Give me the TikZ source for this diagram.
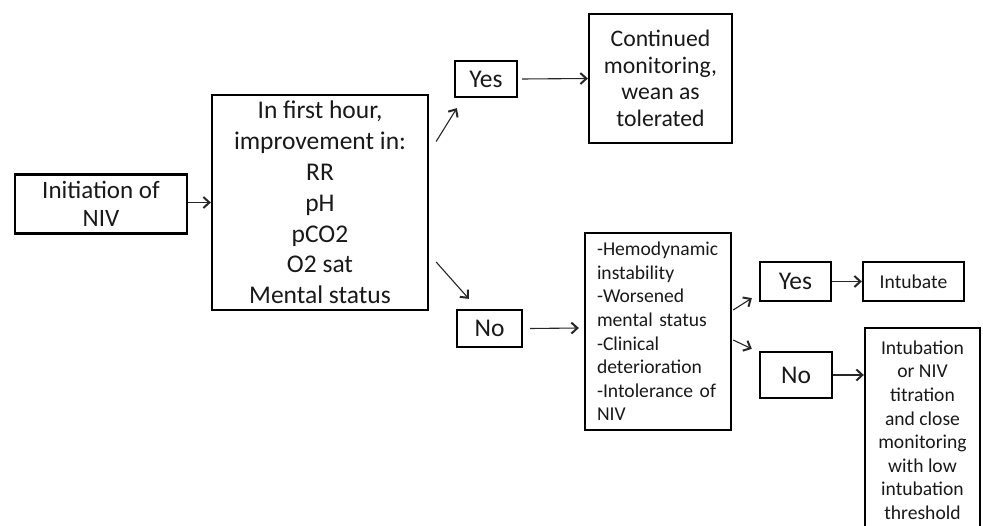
\documentclass[tikz,border=0pt]{standalone}
\usepackage{fontspec}
\setmainfont{Carlito}
\usetikzlibrary{arrows.meta,calc}
\begin{document}
\begin{tikzpicture}[x=1pt,y=-1pt,
  box/.style={draw=black,line width=2.3pt,inner sep=0pt,align=center,text=black!90},
  big/.style={font=\fontsize{25.5}{30.8}\selectfont},
  small/.style={font=\fontsize{19.6}{23.6}\selectfont},
  conn/.style={draw=black!85,line width=1.1pt,-{Straight Barb[length=6pt,width=11pt,line width=2pt]}}
]
\path[use as bounding box,clip] (0,0) rectangle (983,526);

\node[box,font=\fontsize{25}{28.5}\selectfont,minimum width=172,minimum height=59] (init) at (101,204) {Initiation of\\NIV};
\node[box,big,minimum width=216,minimum height=215] (main) at (320,202.5) {In first hour,\\improvement in:\\RR\\pH\\pCO2\\O2 sat\\Mental status};
\node[box,big,minimum width=62,minimum height=36] (yes1) at (486,79) {Yes};
\node[box,font=\fontsize{23.7}{26.7}\selectfont,minimum width=143,minimum height=129] (cont) at (660.5,78.5) {Continued\\monitoring,\\wean as\\tolerated};
\node[box,big,minimum width=65,minimum height=37] (no1) at (489.5,328.5) {No};
\node[box,small,align=left,text width=122,inner xsep=12pt,minimum height=197] (list) at (658,331.5) {-Hemodynamic\\instability\\-Worsened\\mental status\\-Clinical\\deterioration\\-Intolerance of\\NIV};
\node[box,big,minimum width=71,minimum height=39] (yes2) at (795.5,281.5) {Yes};
\node[box,small,minimum width=101,minimum height=39] (intub) at (913.5,281.5) {Intubate};
\node[box,big,minimum width=72,minimum height=46] (no2) at (796,375) {No};
\node[box,small,minimum width=115,minimum height=204,anchor=north] (last) at (922.5,327) {Intubation\\or NIV\\titration\\and close\\monitoring\\with low\\intubation\\threshold};

\draw[conn] ($(init.east)+(0,-1.5)$) -- (main.west);
\draw[conn] ($(main.east)+(7,-61)$) -- ($(yes1.south west)+(3,10)$);
\draw[conn] ($(yes1.east)+(4,0)$) -- (cont.west);
\draw[conn] ($(main.east)+(7,59.5)$) -- ($(no1.north west)+(13,-10)$);
\draw[conn] ($(no1.east)+(7,0)$) -- ($(list.west)+(-5,-3.5)$);
\draw[conn] ($(list.east)+(1,-21.5)$) -- ($(yes2.south west)+(-7,-4)$);
\draw[conn] ($(list.east)+(1,8.5)$) -- ($(no2.north west)+(-7,-2)$);
\draw[conn] (yes2.east) -- (intub.west);
\draw[conn] (no2.east) -- (no2.east -| last.west);
\end{tikzpicture}
\end{document}
